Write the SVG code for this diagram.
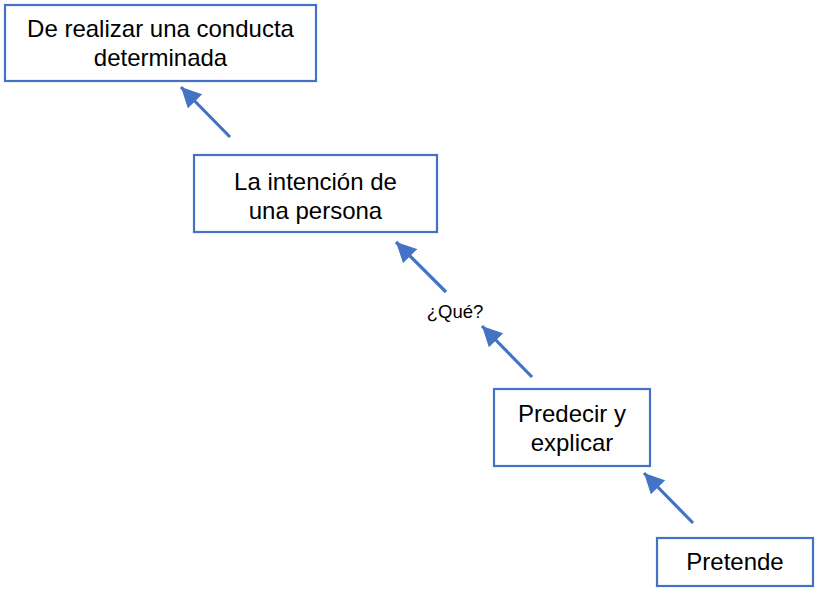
<svg xmlns="http://www.w3.org/2000/svg" width="826" height="591" viewBox="0 0 826 591">
<style>
.box{fill:#fff;stroke:#4472C4;stroke-width:2.2}
.t{font-family:"Liberation Sans",Arial,sans-serif;font-size:24px;fill:#000;text-anchor:middle}
.s{font-family:"Liberation Sans",Arial,sans-serif;font-size:18.5px;fill:#000;text-anchor:middle}
.c{stroke:#4472C4;stroke-width:3.2;fill:none;marker-end:url(#ah)}
</style>
<defs>
<marker id="ah" markerUnits="userSpaceOnUse" markerWidth="20" markerHeight="20" refX="16" refY="8" orient="auto" viewBox="0 0 16 16">
<path d="M0,0 L16,8 L0,16 Z" fill="#4472C4"/>
</marker>
</defs>
<rect width="826" height="591" fill="#fff"/>
<g id="connectors">
<line class="c" x1="230" y1="137" x2="181" y2="87"/>
<line class="c" x1="446" y1="292" x2="396" y2="242"/>
<line class="c" x1="532" y1="377" x2="482" y2="326"/>
<line class="c" x1="693" y1="523" x2="644" y2="473"/>
</g>
<g id="n1">
<rect class="box" x="5" y="5" width="311" height="76"/>
<text class="t" x="160.5" y="37">De realizar una conducta</text>
<text class="t" x="160.5" y="66">determinada</text>
</g>
<g id="n2">
<rect class="box" x="194" y="155" width="243" height="77"/>
<text class="t" x="315.5" y="190">La intención de</text>
<text class="t" x="315.5" y="219">una persona</text>
</g>
<g id="n3">
<text class="s" x="455" y="318">¿Qué?</text>
</g>
<g id="n4">
<rect class="box" x="494" y="389" width="156" height="77"/>
<text class="t" x="572" y="422">Predecir y</text>
<text class="t" x="572" y="451">explicar</text>
</g>
<g id="n5">
<rect class="box" x="657" y="538" width="156" height="48"/>
<text class="t" x="735" y="570">Pretende</text>
</g>
</svg>
